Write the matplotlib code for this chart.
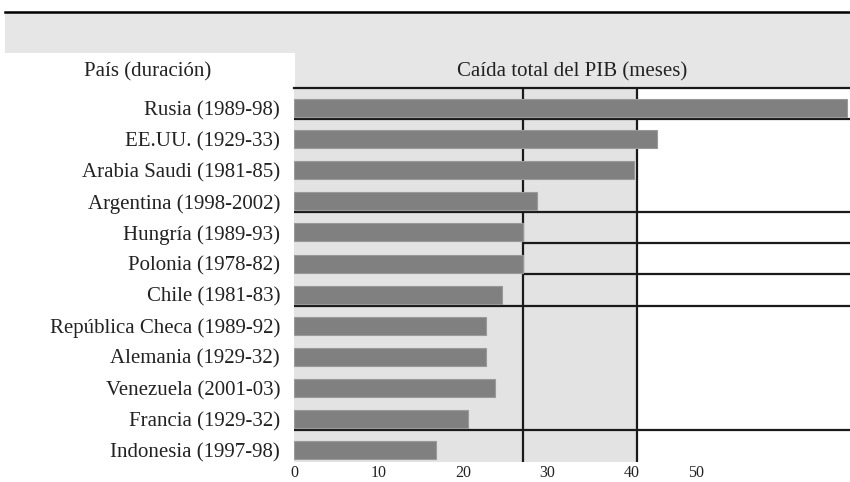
# Caída total del PIB por país - barras horizontales
import matplotlib.pyplot as plt
from matplotlib.patches import Rectangle
from matplotlib.lines import Line2D

# datos
paises = ['Rusia (1989-98)', 'EE.UU. (1929-33)', 'Arabia Saudi (1981-85)',
          'Argentina (1998-2002)', 'Hungría (1989-93)', 'Polonia (1978-82)',
          'Chile (1981-83)', 'República Checa (1989-92)', 'Alemania (1929-32)',
          'Venezuela (2001-03)', 'Francia (1929-32)', 'Indonesia (1997-98)']
caida = [65.4, 43.0, 40.2, 28.8, 27.1, 27.1, 24.6, 22.7, 22.7, 23.8, 20.6, 16.8]

tick_pos = [0, 10, 20, 30, 40, 47.6]
tick_labels = ['0', '10', '20', '30', '40', '50']

# lineas verticales y horizontales del original
vlineas = [27.1, 40.6]
hlineas_y = [0.35, 3.35, 4.35, 5.35, 6.35, 10.35]
hlineas_x0 = [0, 0, 27.1, 27.1, 0, 0]

plt.rcParams['font.family'] = ['Liberation Serif', 'DejaVu Serif']
texto = '#222222'

fig = plt.figure(figsize=(8.5, 4.82), dpi=100)
W, H = 850, 482

# cabecera gris + linea negra superior
fig.add_artist(Rectangle((5 / W, 1 - 88 / H), 845 / W, 76 / H,
                         transform=fig.transFigure, color='#e6e6e6', lw=0, zorder=0))
fig.add_artist(Rectangle((0, 0), 295 / W, 1 - 53 / H,
                         transform=fig.transFigure, color='white', lw=0, zorder=0.5))
fig.add_artist(Line2D([5 / W, 1], [1 - 12 / H, 1 - 12 / H],
                      transform=fig.transFigure, color='black', lw=1.8))
fig.text(148 / W, 1 - 72 / H, 'País (duración)', ha='center', va='center',
         fontsize=15, color=texto)
fig.text(572 / W, 1 - 72 / H, 'Caída total del PIB (meses)', ha='center', va='center',
         fontsize=15, color=texto)

ax = fig.add_axes([294 / W, 20 / H, 556 / W, 374 / H])
ax.set_zorder(2)
ax.patch.set_alpha(0)

y = list(range(len(paises)))
ax.axvspan(0, vlineas[1], color='#e3e3e3', lw=0, zorder=0)
ax.barh(y, caida, height=0.58, color='#808080', edgecolor='#9a9a9a', lw=0.8, zorder=4)

for v in vlineas:
    ax.axvline(v, color='#1a1a1a', lw=1.6, zorder=3)
for yy, x0 in zip(hlineas_y, hlineas_x0):
    ax.hlines(yy, x0, 65.8, color='#1a1a1a', lw=1.6, zorder=3)

ax.set_xlim(0, 65.8)
ax.set_ylim(11.38, -0.643)

ax.set_yticks(y)
ax.set_yticklabels(paises, fontsize=15, color=texto)
ax.set_xticks(tick_pos)
ax.set_xticklabels(tick_labels, fontsize=11.5, color=texto)
ax.tick_params(axis='y', length=0, pad=10)
ax.tick_params(axis='x', length=0, pad=2)

for s in ['left', 'right', 'bottom']:
    ax.spines[s].set_visible(False)
ax.spines['top'].set_linewidth(1.6)
ax.spines['top'].set_color('#1a1a1a')

fig.savefig('out.png', dpi=100)
